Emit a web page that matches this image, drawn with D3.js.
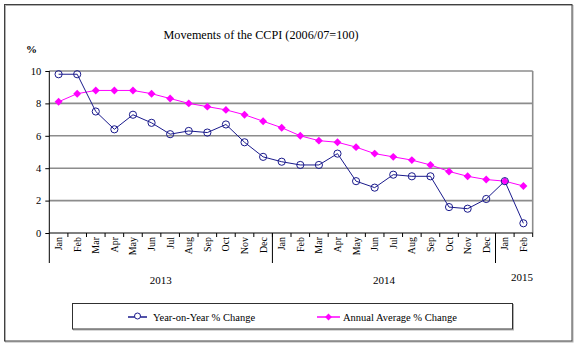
<!DOCTYPE html>
<html>
<head>
<meta charset="utf-8">
<script src="https://cdn.jsdelivr.net/npm/d3@7"></script>
<style>
  html, body { margin: 0; padding: 0; background: #fff; }
  svg { display: block; font-family: "Liberation Serif", "Times New Roman", serif; }
</style>
</head>
<body>
<svg id="chart" width="575" height="345"></svg>
<script>
// Monthly CCPI movements, Jan 2013 – Feb 2015
const months = ["Jan","Feb","Mar","Apr","May","Jun","Jul","Aug","Sep","Oct","Nov","Dec",
                "Jan","Feb","Mar","Apr","May","Jun","Jul","Aug","Sep","Oct","Nov","Dec",
                "Jan","Feb"];
const years = [
  { label: "2013", start: 0, end: 12 },
  { label: "2014", start: 12, end: 24 },
  { label: "2015", start: 24, end: 26 }
];
const yoyChange = [9.8, 9.8, 7.5, 6.4, 7.3, 6.8, 6.1, 6.3, 6.2, 6.7, 5.6, 4.7,
                   4.4, 4.2, 4.2, 4.9, 3.2, 2.8, 3.6, 3.5, 3.5, 1.6, 1.5, 2.1,
                   3.2, 0.6];
const annualAvgChange = [8.1, 8.6, 8.8, 8.8, 8.8, 8.6, 8.3, 8.0, 7.8, 7.6, 7.3, 6.9,
                         6.5, 6.0, 5.7, 5.6, 5.3, 4.9, 4.7, 4.5, 4.2, 3.8, 3.5, 3.3,
                         3.2, 2.9];
const yTicks = [0, 2, 4, 6, 8, 10];

const svg = d3.select("#chart");
const plot = { left: 49.3, right: 532.7, top: 71, bottom: 233 };

// Outer frame with a soft shadow
svg.append("rect").attr("x", 5.5).attr("y", 5.5).attr("width", 567.5).attr("height", 336.5)
  .attr("fill", "none").attr("stroke", "#b0b0b0").attr("stroke-width", 1);
svg.append("rect").attr("x", 4.5).attr("y", 4.5).attr("width", 567.5).attr("height", 336.5)
  .attr("fill", "none").attr("stroke", "#404040").attr("stroke-width", 1);

const x = d3.scaleBand().domain(d3.range(months.length))
  .range([plot.left, plot.right]).paddingInner(0).paddingOuter(0);
const y = d3.scaleLinear().domain([0, 10]).range([plot.bottom, plot.top]);
const cx = i => x(i) + x.bandwidth() / 2;

// Title and unit
svg.append("text").attr("x", 261).attr("y", 39).attr("text-anchor", "middle")
  .attr("font-size", 12.2).attr("fill", "#000").text("Movements of the CCPI (2006/07=100)");
svg.append("text").attr("x", 26).attr("y", 53)
  .attr("font-size", 11).attr("font-weight", "bold").attr("fill", "#000").text("%");

// Horizontal gridlines
svg.append("g").selectAll("line").data(yTicks.filter(t => t > 0)).join("line")
  .attr("x1", plot.left).attr("x2", plot.right)
  .attr("y1", d => y(d)).attr("y2", d => y(d))
  .attr("stroke", "#8c8c8c").attr("stroke-width", 1.6);

// Right border of plot area
svg.append("line").attr("x1", plot.right).attr("x2", plot.right)
  .attr("y1", plot.top).attr("y2", plot.bottom)
  .attr("stroke", "#8c8c8c").attr("stroke-width", 1.6);

// Y axis
const yAxis = d3.axisLeft(y).tickValues(yTicks).tickSize(4).tickPadding(4);
const gy = svg.append("g").attr("transform", `translate(${plot.left},0)`).call(yAxis);
gy.select(".domain").remove();
gy.selectAll(".tick line").attr("stroke", "#000");
gy.selectAll(".tick text").attr("font-size", 10.5).attr("fill", "#000")
  .attr("font-family", "Liberation Serif, serif");
svg.append("line").attr("x1", plot.left).attr("x2", plot.left)
  .attr("y1", plot.top).attr("y2", 263).attr("stroke", "#000").attr("stroke-width", 1);

// X axis line and month ticks
svg.append("line").attr("x1", plot.left).attr("x2", plot.right)
  .attr("y1", plot.bottom).attr("y2", plot.bottom).attr("stroke", "#000");
svg.append("g").selectAll("line").data(d3.range(1, months.length + 1)).join("line")
  .attr("x1", i => x(0) + i * x.bandwidth()).attr("x2", i => x(0) + i * x.bandwidth())
  .attr("y1", plot.bottom).attr("y2", plot.bottom + 4)
  .attr("stroke", "#000");

// Year separators
svg.append("g").selectAll("line").data(years.slice(1)).join("line")
  .attr("x1", d => x(d.start)).attr("x2", d => x(d.start))
  .attr("y1", plot.bottom).attr("y2", 263)
  .attr("stroke", "#000");

// Month labels, rotated
svg.append("g").selectAll("text").data(months).join("text")
  .attr("transform", (d, i) => `translate(${cx(i) + 3.5},${plot.bottom + 4}) rotate(-90)`)
  .attr("text-anchor", "end")
  .attr("font-size", 10).attr("fill", "#000")
  .text(d => d);

// Year labels
svg.append("g").selectAll("text").data(years).join("text")
  .attr("x", (d, i) => i < 2 ? (x(d.start) + x(d.end - 1) + x.bandwidth()) / 2 : 522)
  .attr("y", (d, i) => i < 2 ? 284 : 281)
  .attr("text-anchor", "middle")
  .attr("font-size", 11).attr("fill", "#000")
  .text(d => d.label);

// Series lines
const line = d3.line().x((d, i) => cx(i)).y(d => y(d));
const navy = "#1a1a8c";
const magenta = "#ff00ff";

svg.append("path").datum(annualAvgChange).attr("d", line)
  .attr("fill", "none").attr("stroke", magenta).attr("stroke-width", 1);
svg.append("path").datum(yoyChange).attr("d", line)
  .attr("fill", "none").attr("stroke", navy).attr("stroke-width", 1);

// Diamond markers for annual average
const diamond = d3.symbol().type(d3.symbolDiamond2).size(40);
svg.append("g").selectAll("path").data(annualAvgChange).join("path")
  .attr("transform", (d, i) => `translate(${cx(i)},${y(d)})`)
  .attr("d", diamond).attr("fill", magenta);

// Circle markers for year-on-year
svg.append("g").selectAll("circle").data(yoyChange).join("circle")
  .attr("cx", (d, i) => cx(i)).attr("cy", d => y(d)).attr("r", 3.6)
  .attr("fill", "none").attr("stroke", navy).attr("stroke-width", 1);

// Legend
svg.append("rect").attr("x", 73.5).attr("y", 304.5).attr("width", 440).attr("height", 25.5)
  .attr("fill", "none").attr("stroke", "#b0b0b0");
svg.append("rect").attr("x", 72.5).attr("y", 303.5).attr("width", 440).attr("height", 25.5)
  .attr("fill", "#fff").attr("stroke", "#303030");

const legend = [
  { label: "Year-on-Year % Change", x0: 128, x1: 147, text: 153, color: navy, kind: "circle" },
  { label: "Annual Average % Change", x0: 317, x1: 340, text: 343, color: magenta, kind: "diamond" }
];
const ly = 317;
const lg = svg.append("g").selectAll("g").data(legend).join("g");
lg.append("line").attr("x1", d => d.x0).attr("x2", d => d.x1).attr("y1", ly).attr("y2", ly)
  .attr("stroke", d => d.color).attr("stroke-width", 1.5);
lg.filter(d => d.kind === "circle").append("circle")
  .attr("cx", d => (d.x0 + d.x1) / 2).attr("cy", ly - 1).attr("r", 3)
  .attr("fill", "#fff").attr("stroke", d => d.color);
lg.filter(d => d.kind === "diamond").append("path")
  .attr("transform", d => `translate(${(d.x0 + d.x1) / 2},${ly})`)
  .attr("d", d3.symbol().type(d3.symbolDiamond2).size(30)).attr("fill", d => d.color);
lg.append("text").attr("x", d => d.text).attr("y", ly + 4)
  .attr("font-size", 10.5).attr("fill", "#000").text(d => d.label);
</script>
</body>
</html>
